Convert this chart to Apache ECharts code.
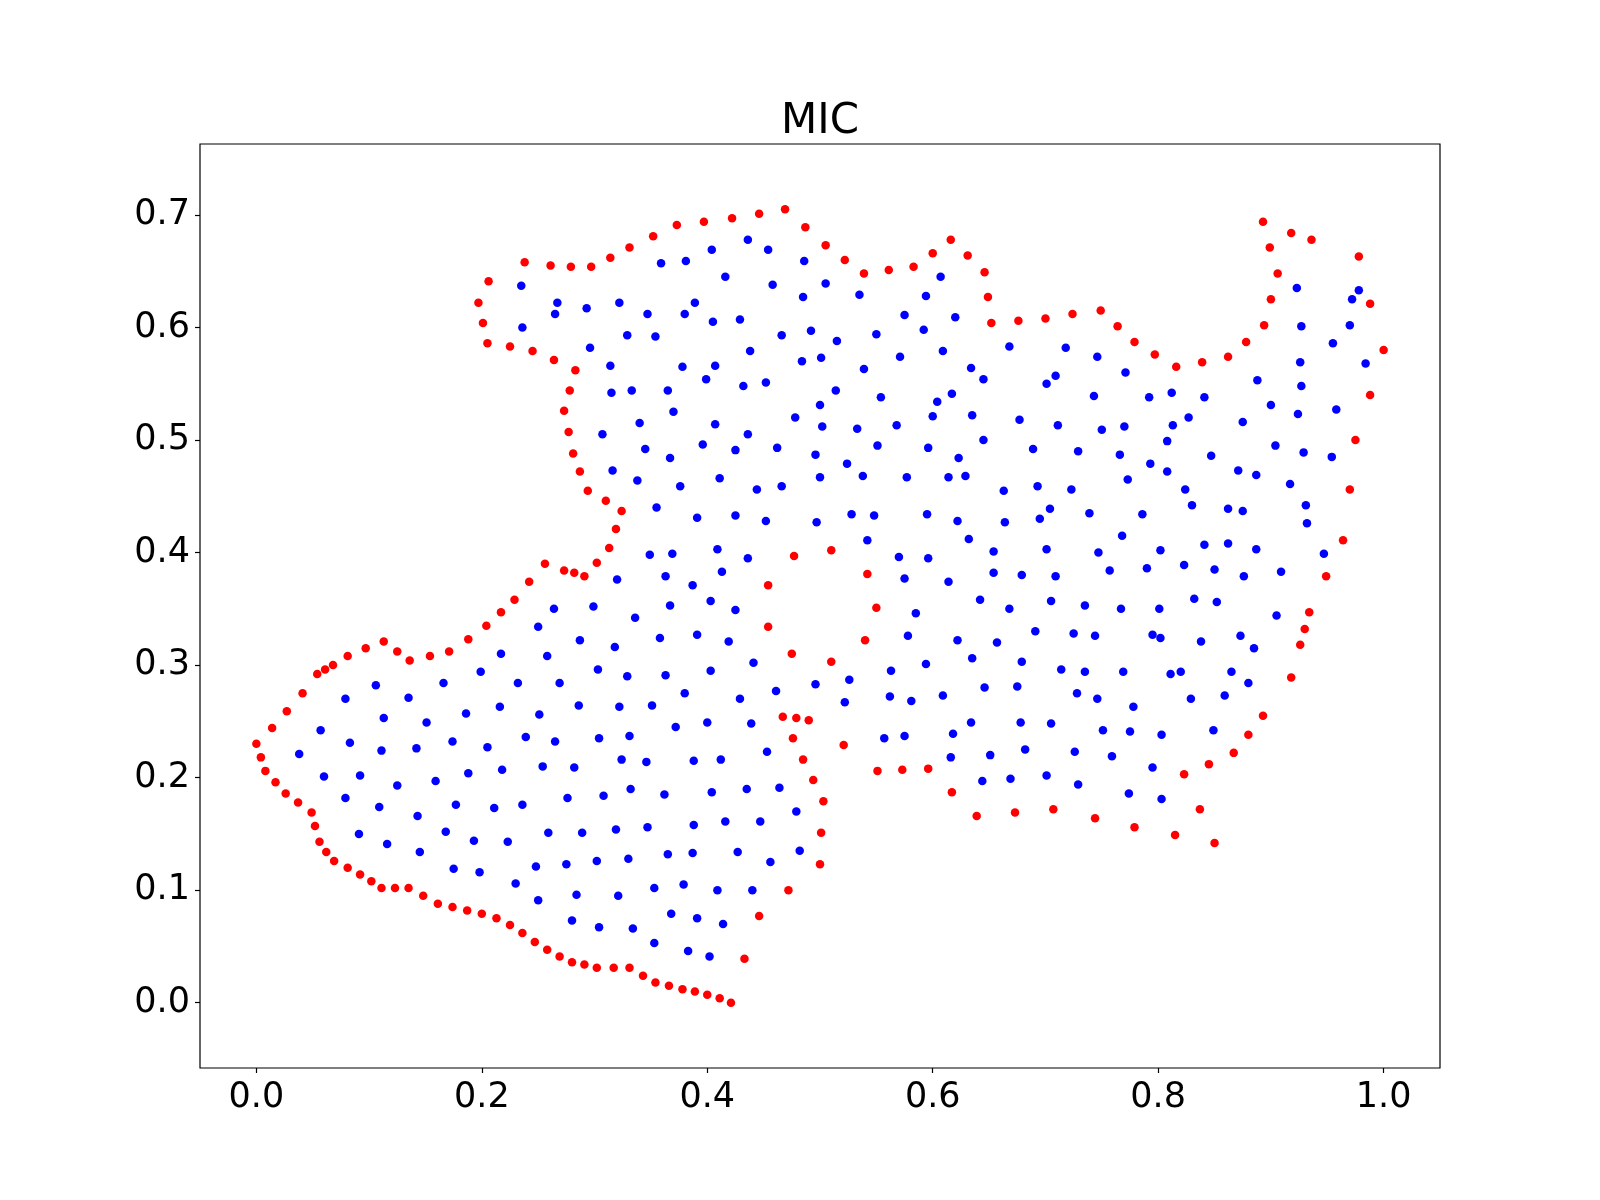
<!DOCTYPE html>
<html>
<head>
<meta charset="utf-8">
<title>MIC</title>
<script src="https://cdn.jsdelivr.net/npm/echarts@6/dist/echarts.min.js"></script>
<style>
  html, body { margin: 0; padding: 0; background: #fff; }
  #chart { width: 1600px; height: 1200px; }
</style>
</head>
<body>
<div id="chart"></div>
<script>
// outline points (red)
const boundaryPoints = [
  [0.238, 0.658], [0.261, 0.655], [0.279, 0.654], [0.297, 0.654], [0.314, 0.662], [0.331, 0.671],
  [0.352, 0.681], [0.373, 0.691], [0.397, 0.694], [0.422, 0.697], [0.206, 0.641], [0.197, 0.622],
  [0.201, 0.604], [0.205, 0.586], [0.225, 0.583], [0.245, 0.579], [0.264, 0.571], [0.283, 0.562],
  [0.278, 0.544], [0.273, 0.526], [0.277, 0.507], [0.281, 0.488],
  [0.446, 0.701], [0.469, 0.705], [0.487, 0.689], [0.505, 0.673], [0.522, 0.660], [0.539, 0.648],
  [0.561, 0.651], [0.583, 0.654], [0.600, 0.666], [0.616, 0.678], [0.631, 0.664], [0.646, 0.649],
  [0.649, 0.627], [0.652, 0.604], [0.676, 0.606], [0.700, 0.608],
  [0.893, 0.694], [0.918, 0.684], [0.936, 0.678], [0.899, 0.671], [0.906, 0.648], [0.978, 0.663],
  [0.900, 0.625], [0.988, 0.621], [0.724, 0.612], [0.749, 0.615], [0.764, 0.601], [0.779, 0.587],
  [0.797, 0.576], [0.816, 0.565], [0.839, 0.569], [0.862, 0.574], [0.878, 0.587], [0.894, 0.602],
  [0.975, 0.500], [0.988, 0.540], [1.000, 0.580],
  [0.242, 0.374], [0.229, 0.358], [0.217, 0.347], [0.204, 0.335], [0.188, 0.323], [0.171, 0.312],
  [0.154, 0.308], [0.136, 0.304], [0.125, 0.312], [0.113, 0.321], [0.097, 0.315], [0.081, 0.308],
  [0.068, 0.300], [0.061, 0.296], [0.054, 0.292], [0.041, 0.275], [0.027, 0.259], [0.014, 0.244],
  [0.287, 0.472], [0.294, 0.455], [0.310, 0.446], [0.324, 0.437], [0.319, 0.421], [0.313, 0.404],
  [0.302, 0.391], [0.256, 0.390], [0.273, 0.384], [0.282, 0.382], [0.291, 0.379],
  [0.477, 0.397], [0.454, 0.371], [0.454, 0.334], [0.475, 0.310], [0.467, 0.254], [0.479, 0.253],
  [0.490, 0.251], [0.476, 0.235],
  [0.510, 0.402], [0.542, 0.381], [0.550, 0.351], [0.540, 0.322], [0.510, 0.303],
  [0.970, 0.456], [0.964, 0.411], [0.949, 0.379], [0.934, 0.347], [0.930, 0.332], [0.926, 0.318],
  [0.918, 0.289], [0.893, 0.255], [0.880, 0.238],
  [0.000, 0.230], [0.004, 0.218], [0.008, 0.206], [0.017, 0.196], [0.026, 0.186], [0.037, 0.178],
  [0.049, 0.169], [0.052, 0.157], [0.056, 0.143], [0.062, 0.134], [0.069, 0.126], [0.081, 0.120],
  [0.092, 0.114], [0.102, 0.108], [0.111, 0.102], [0.123, 0.102], [0.135, 0.102], [0.148, 0.095],
  [0.161, 0.088], [0.174, 0.085], [0.187, 0.082], [0.200, 0.079], [0.213, 0.075], [0.225, 0.069],
  [0.236, 0.062], [0.247, 0.054],
  [0.485, 0.216], [0.494, 0.198], [0.472, 0.100], [0.446, 0.077], [0.433, 0.039],
  [0.258, 0.047], [0.269, 0.041], [0.280, 0.036], [0.291, 0.034], [0.302, 0.031], [0.317, 0.031],
  [0.331, 0.031], [0.343, 0.024], [0.354, 0.018], [0.366, 0.015], [0.378, 0.012], [0.389, 0.010],
  [0.400, 0.007], [0.411, 0.004], [0.421, 0.000],
  [0.521, 0.229], [0.551, 0.206], [0.573, 0.207], [0.596, 0.208], [0.617, 0.187], [0.639, 0.166],
  [0.673, 0.169], [0.707, 0.172], [0.744, 0.164], [0.503, 0.179], [0.501, 0.151], [0.500, 0.123],
  [0.867, 0.222], [0.845, 0.212], [0.823, 0.203], [0.837, 0.172], [0.779, 0.156], [0.815, 0.149],
  [0.850, 0.142]
];

// interior points (blue)
const interiorPoints = [
  [0.404, 0.669], [0.381, 0.659], [0.359, 0.657], [0.416, 0.645], [0.235, 0.637], [0.267, 0.622],
  [0.265, 0.612], [0.293, 0.617], [0.322, 0.622], [0.347, 0.612], [0.389, 0.622], [0.380, 0.612],
  [0.405, 0.605], [0.429, 0.607], [0.236, 0.600], [0.329, 0.593], [0.354, 0.592], [0.296, 0.582],
  [0.314, 0.566], [0.378, 0.565], [0.407, 0.566], [0.399, 0.554], [0.315, 0.542], [0.333, 0.544],
  [0.365, 0.544], [0.432, 0.548], [0.370, 0.525], [0.340, 0.515], [0.407, 0.514], [0.307, 0.505],
  [0.345, 0.492], [0.396, 0.496], [0.425, 0.491], [0.367, 0.484],
  [0.436, 0.678], [0.454, 0.669], [0.486, 0.659], [0.458, 0.638], [0.505, 0.639], [0.485, 0.627],
  [0.535, 0.629], [0.594, 0.628], [0.607, 0.645], [0.575, 0.611], [0.620, 0.609], [0.466, 0.593],
  [0.492, 0.597], [0.515, 0.588], [0.550, 0.594], [0.592, 0.598], [0.438, 0.579], [0.484, 0.570],
  [0.501, 0.573], [0.539, 0.563], [0.571, 0.574], [0.609, 0.579], [0.668, 0.583], [0.634, 0.564],
  [0.645, 0.554], [0.452, 0.551], [0.514, 0.544], [0.500, 0.531], [0.554, 0.538], [0.604, 0.534],
  [0.617, 0.541], [0.478, 0.520], [0.502, 0.512], [0.533, 0.510], [0.568, 0.513], [0.600, 0.521],
  [0.635, 0.522], [0.677, 0.518], [0.436, 0.505], [0.462, 0.493], [0.496, 0.487], [0.551, 0.495],
  [0.596, 0.493], [0.645, 0.500], [0.689, 0.492], [0.623, 0.484],
  [0.923, 0.635], [0.978, 0.633], [0.972, 0.625], [0.927, 0.601], [0.970, 0.602], [0.955, 0.586],
  [0.926, 0.569], [0.984, 0.568], [0.718, 0.582], [0.746, 0.574], [0.709, 0.557], [0.701, 0.550],
  [0.771, 0.560], [0.743, 0.539], [0.792, 0.538], [0.812, 0.542], [0.841, 0.538], [0.888, 0.553],
  [0.927, 0.548], [0.900, 0.531], [0.924, 0.523], [0.958, 0.527], [0.711, 0.513], [0.750, 0.509],
  [0.770, 0.512], [0.813, 0.513], [0.827, 0.520], [0.875, 0.516], [0.808, 0.499], [0.729, 0.490],
  [0.766, 0.487], [0.847, 0.486], [0.904, 0.495], [0.929, 0.489], [0.954, 0.485],
  [0.217, 0.310], [0.199, 0.294], [0.166, 0.284], [0.232, 0.284], [0.106, 0.282], [0.079, 0.270],
  [0.135, 0.271], [0.113, 0.253], [0.151, 0.249], [0.186, 0.257], [0.216, 0.263], [0.057, 0.242],
  [0.239, 0.236],
  [0.316, 0.473], [0.338, 0.464], [0.376, 0.459], [0.411, 0.466], [0.444, 0.456], [0.466, 0.459],
  [0.500, 0.467], [0.355, 0.440], [0.391, 0.431], [0.425, 0.433], [0.452, 0.428], [0.497, 0.427],
  [0.349, 0.398], [0.369, 0.399], [0.409, 0.403], [0.436, 0.395], [0.413, 0.383], [0.320, 0.376],
  [0.363, 0.379], [0.387, 0.371], [0.264, 0.350], [0.299, 0.352], [0.367, 0.353], [0.403, 0.357],
  [0.425, 0.349], [0.336, 0.342], [0.250, 0.334], [0.287, 0.322], [0.318, 0.316], [0.358, 0.324],
  [0.391, 0.327], [0.419, 0.321], [0.258, 0.308], [0.303, 0.296], [0.329, 0.290], [0.363, 0.291],
  [0.403, 0.295], [0.441, 0.302], [0.269, 0.284], [0.380, 0.275], [0.429, 0.270], [0.461, 0.277],
  [0.496, 0.283], [0.251, 0.256], [0.286, 0.264], [0.322, 0.263], [0.351, 0.264], [0.372, 0.245],
  [0.400, 0.249], [0.439, 0.248], [0.304, 0.235], [0.331, 0.237],
  [0.524, 0.479], [0.538, 0.468], [0.577, 0.467], [0.614, 0.467], [0.629, 0.468], [0.663, 0.455],
  [0.693, 0.459], [0.723, 0.456], [0.704, 0.439], [0.739, 0.435], [0.528, 0.434], [0.548, 0.433],
  [0.595, 0.434], [0.622, 0.428], [0.664, 0.427], [0.695, 0.430], [0.542, 0.411], [0.632, 0.412],
  [0.654, 0.401], [0.701, 0.403], [0.747, 0.400], [0.570, 0.396], [0.596, 0.395], [0.575, 0.377],
  [0.614, 0.374], [0.654, 0.382], [0.679, 0.380], [0.709, 0.379], [0.642, 0.358], [0.668, 0.350],
  [0.705, 0.357], [0.735, 0.353], [0.585, 0.346], [0.578, 0.326], [0.622, 0.322], [0.657, 0.320],
  [0.691, 0.330], [0.725, 0.328], [0.744, 0.326], [0.635, 0.306], [0.594, 0.301], [0.563, 0.295],
  [0.679, 0.303], [0.714, 0.296], [0.735, 0.294], [0.526, 0.287], [0.522, 0.267], [0.562, 0.272],
  [0.581, 0.268], [0.609, 0.273], [0.646, 0.280], [0.675, 0.281], [0.728, 0.275], [0.746, 0.270],
  [0.634, 0.249], [0.678, 0.249], [0.705, 0.248], [0.751, 0.242], [0.557, 0.235], [0.575, 0.237],
  [0.618, 0.239],
  [0.793, 0.479], [0.808, 0.472], [0.773, 0.465], [0.871, 0.473], [0.887, 0.469], [0.917, 0.461],
  [0.824, 0.456], [0.830, 0.442], [0.786, 0.434], [0.862, 0.439], [0.875, 0.437], [0.931, 0.442],
  [0.932, 0.426], [0.768, 0.415], [0.802, 0.402], [0.841, 0.407], [0.862, 0.408], [0.887, 0.403],
  [0.947, 0.399], [0.757, 0.384], [0.790, 0.386], [0.823, 0.389], [0.850, 0.385], [0.876, 0.379],
  [0.909, 0.383], [0.832, 0.359], [0.852, 0.356], [0.767, 0.350], [0.801, 0.350], [0.905, 0.344],
  [0.795, 0.327], [0.802, 0.324], [0.838, 0.321], [0.873, 0.326], [0.885, 0.315], [0.769, 0.294],
  [0.811, 0.292], [0.820, 0.294], [0.865, 0.294], [0.880, 0.284], [0.829, 0.270], [0.859, 0.273],
  [0.778, 0.263], [0.775, 0.241], [0.803, 0.238], [0.849, 0.242],
  [0.083, 0.231], [0.038, 0.221], [0.111, 0.224], [0.142, 0.226], [0.174, 0.232], [0.205, 0.227],
  [0.060, 0.201], [0.092, 0.202], [0.125, 0.193], [0.159, 0.197], [0.188, 0.204], [0.218, 0.207],
  [0.079, 0.182], [0.109, 0.174], [0.143, 0.166], [0.177, 0.176], [0.211, 0.173], [0.236, 0.176],
  [0.091, 0.150], [0.116, 0.141], [0.145, 0.134], [0.168, 0.152], [0.193, 0.144], [0.223, 0.143],
  [0.175, 0.119], [0.198, 0.116], [0.230, 0.106],
  [0.265, 0.232], [0.254, 0.210], [0.282, 0.209], [0.324, 0.216], [0.346, 0.214], [0.388, 0.215],
  [0.412, 0.216], [0.453, 0.223], [0.276, 0.182], [0.308, 0.184], [0.332, 0.190], [0.362, 0.185],
  [0.404, 0.187], [0.435, 0.190], [0.464, 0.191], [0.479, 0.170], [0.259, 0.151], [0.289, 0.151],
  [0.319, 0.154], [0.347, 0.156], [0.388, 0.158], [0.416, 0.161], [0.447, 0.161], [0.482, 0.135],
  [0.248, 0.121], [0.275, 0.123], [0.302, 0.126], [0.330, 0.128], [0.365, 0.132], [0.387, 0.133],
  [0.427, 0.134], [0.456, 0.125], [0.250, 0.091], [0.284, 0.096], [0.321, 0.095], [0.353, 0.102],
  [0.379, 0.105], [0.409, 0.100], [0.440, 0.100], [0.280, 0.073], [0.304, 0.067], [0.334, 0.066],
  [0.368, 0.079], [0.391, 0.075], [0.414, 0.070], [0.353, 0.053], [0.383, 0.046], [0.402, 0.041],
  [0.616, 0.218], [0.651, 0.220], [0.682, 0.225], [0.726, 0.223], [0.644, 0.197], [0.669, 0.199],
  [0.701, 0.202], [0.729, 0.194],
  [0.759, 0.219], [0.795, 0.209], [0.774, 0.186], [0.803, 0.181]
];

const xTicks = [0.0, 0.2, 0.4, 0.6, 0.8, 1.0];
const yTicks = [0.0, 0.1, 0.2, 0.3, 0.4, 0.5, 0.6, 0.7];
const chartTitle = 'MIC';

const font = '"DejaVu Sans", sans-serif';
const chart = echarts.init(document.getElementById('chart'), null, { renderer: 'canvas' });

const option = {
  animation: false,
  backgroundColor: '#fff',
  graphic: [{
    type: 'text',
    x: 820,
    y: 122,
    style: {
      text: chartTitle,
      font: '42px ' + font,
      fill: '#000',
      textAlign: 'center',
      textVerticalAlign: 'middle'
    }
  }],
  grid: {
    left: 200, right: 160, top: 144, bottom: 132,
    show: true,
    borderColor: '#000',
    borderWidth: 1.2,
    backgroundColor: 'transparent'
  },
  xAxis: {
    type: 'value',
    min: -0.05,
    max: 1.05,
    position: 'bottom',
    splitLine: { show: false },
    axisLine: { show: false, onZero: false },
    axisTick: {
      show: true, inside: false, length: 5,
      lineStyle: { color: '#000', width: 1.2 },
      customValues: xTicks
    },
    axisLabel: {
      customValues: xTicks,
      formatter: v => v.toFixed(1),
      color: '#000', fontSize: 35, fontFamily: font, margin: 12
    }
  },
  yAxis: {
    type: 'value',
    min: -0.058,
    max: 0.763,
    position: 'left',
    splitLine: { show: false },
    axisLine: { show: false, onZero: false },
    axisTick: {
      show: true, inside: false, length: 5,
      lineStyle: { color: '#000', width: 1.2 },
      customValues: yTicks
    },
    axisLabel: {
      customValues: yTicks,
      formatter: v => v.toFixed(1),
      color: '#000', fontSize: 35, fontFamily: font, margin: 10
    }
  },
  series: [
    {
      name: 'interior',
      type: 'scatter',
      symbolSize: 8.5,
      itemStyle: { color: '#0000ff', opacity: 1 },
      data: interiorPoints
    },
    {
      name: 'boundary',
      type: 'scatter',
      symbolSize: 8.5,
      itemStyle: { color: '#ff0000', opacity: 1 },
      data: boundaryPoints
    }
  ]
};

chart.setOption(option);
</script>
</body>
</html>
